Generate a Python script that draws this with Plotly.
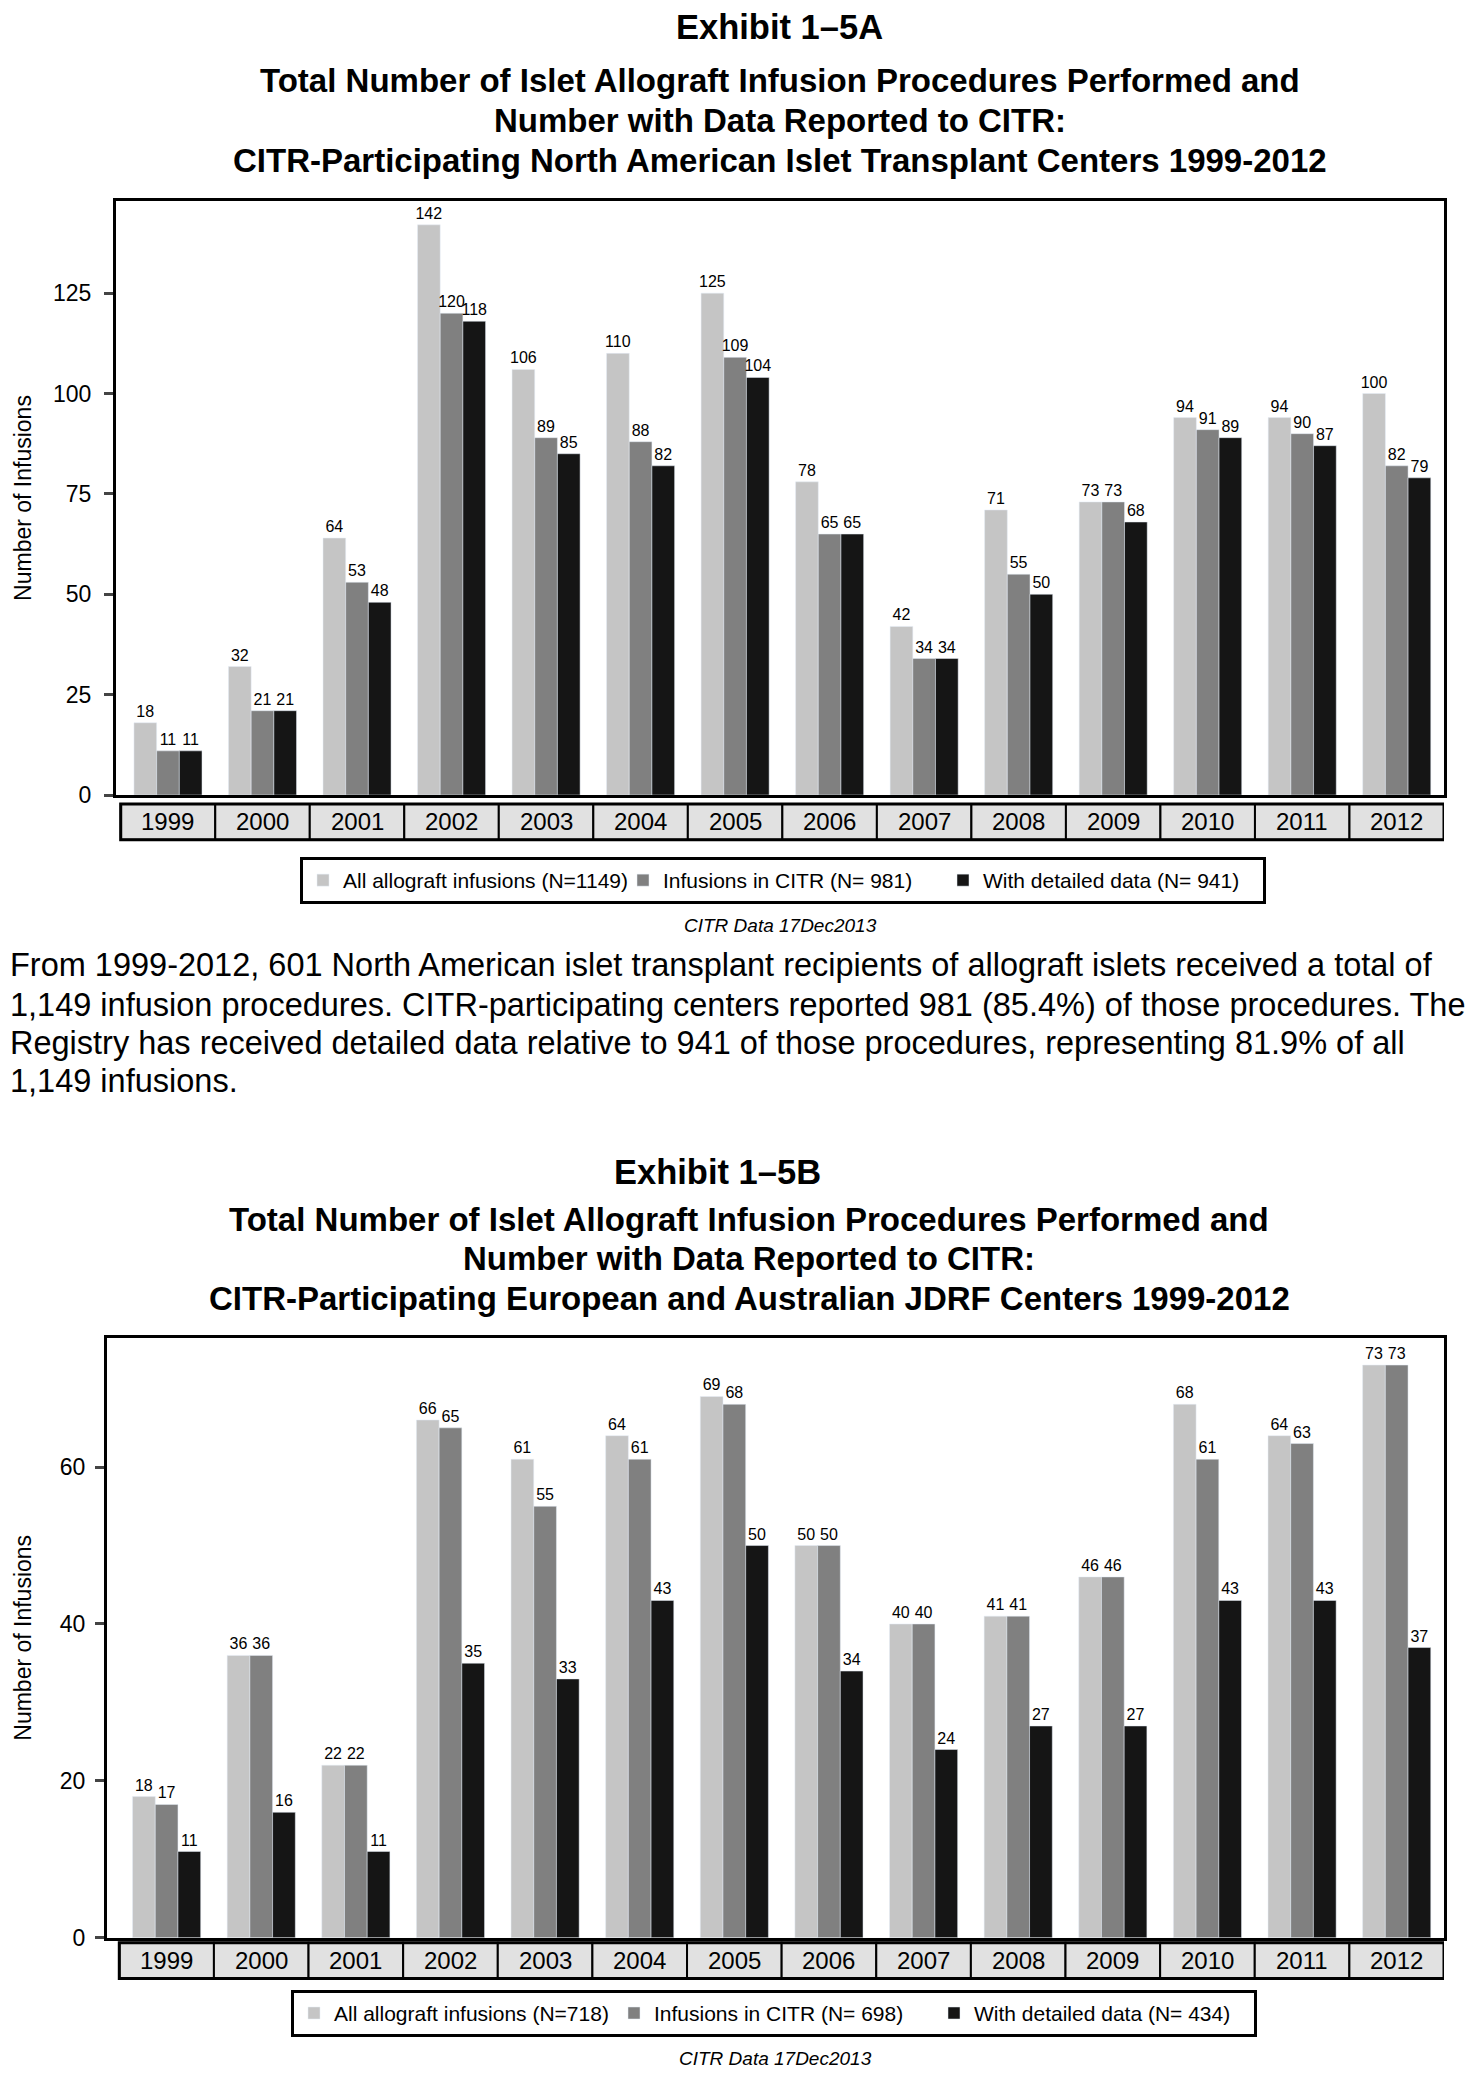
import plotly.graph_objects as go

years = ['1999', '2000', '2001', '2002', '2003', '2004', '2005',
         '2006', '2007', '2008', '2009', '2010', '2011', '2012']

# Exhibit 1-5A: North America
na_all = [18, 32, 64, 142, 106, 110, 125, 78, 42, 71, 73, 94, 94, 100]
na_citr = [11, 21, 53, 120, 89, 88, 109, 65, 34, 55, 73, 91, 90, 82]
na_detail = [11, 21, 48, 118, 85, 82, 104, 65, 34, 50, 68, 89, 87, 79]
na_names = ['All allograft infusions (N=1149)', 'Infusions in CITR (N= 981)',
            'With detailed data (N= 941)']

# Exhibit 1-5B: Europe / Australia
eu_all = [18, 36, 22, 66, 61, 64, 69, 50, 40, 41, 46, 68, 64, 73]
eu_citr = [17, 36, 22, 65, 55, 61, 68, 50, 40, 41, 46, 61, 63, 73]
eu_detail = [11, 16, 11, 35, 33, 43, 50, 34, 24, 27, 27, 43, 43, 37]
eu_names = ['All allograft infusions (N=718)', 'Infusions in CITR (N= 698)',
            'With detailed data (N= 434)']

colors = ['#c5c5c5', '#808080', '#151515']

paragraph = [
    'From 1999-2012, 601 North American islet transplant recipients of allograft islets received a total of',
    '1,149 infusion procedures. CITR-participating centers reported 981 (85.4%) of those procedures. The',
    'Registry has received detailed data relative to 941 of those procedures, representing 81.9% of all',
    '1,149 infusions.',
]

W, H = 1475, 2075
FONT = 'Liberation Sans, Arial, sans-serif'


def px(x):
    return x / W


def py(y):
    return 1 - y / H


fig = go.Figure()

for k, vals in enumerate([na_all, na_citr, na_detail]):
    fig.add_trace(go.Bar(x=years, y=vals, name=na_names[k], marker_color=colors[k],
                         text=vals, textposition='outside', constraintext='none',
                         cliponaxis=False, textfont=dict(size=16, color='black'),
                         xaxis='x', yaxis='y', legend='legend'))
for k, vals in enumerate([eu_all, eu_citr, eu_detail]):
    fig.add_trace(go.Bar(x=years, y=vals, name=eu_names[k], marker_color=colors[k],
                         text=vals, textposition='outside', constraintext='none',
                         cliponaxis=False, textfont=dict(size=16, color='black'),
                         xaxis='x2', yaxis='y2', legend='legend2'))

box = dict(showline=True, mirror=True, linecolor='black', linewidth=3)
leg = dict(orientation='h', xanchor='center', yanchor='middle', bordercolor='black',
           borderwidth=3, font=dict(size=21), bgcolor='white',
           entrywidth=275, entrywidthmode='pixels')
fig.update_layout(
    width=W, height=H, autosize=False,
    margin=dict(l=0, r=0, t=0, b=0),
    paper_bgcolor='white', plot_bgcolor='white',
    font=dict(family=FONT, color='black'),
    barmode='group', bargap=0.28, bargroupgap=0,
    xaxis=dict(domain=[px(108), px(1436)], range=[-0.55, 13.5], anchor='y',
               showticklabels=False, ticks='', showgrid=False, **box),
    yaxis=dict(domain=[py(792), py(194)], range=[0, 148], anchor='x',
               tickvals=[0, 25, 50, 75, 100, 125], ticks='outside', ticklen=9,
               tickwidth=3, tickfont=dict(size=23), ticklabelstandoff=8,
               showgrid=False, zeroline=False, **box),
    xaxis2=dict(domain=[px(99), px(1436)], range=[-0.63, 13.5], anchor='y2',
                showticklabels=False, ticks='', showgrid=False, **box),
    yaxis2=dict(domain=[py(1942), py(1338)], range=[0, 76.5], anchor='x2',
                tickvals=[0, 20, 40, 60], ticks='outside', ticklen=9,
                tickwidth=3, tickfont=dict(size=23), ticklabelstandoff=5,
                showgrid=False, zeroline=False, **box),
    legend=dict(x=px(775), y=py(878), **leg),
    legend2=dict(x=px(766), y=py(2018), **leg),
    showlegend=True,
)

# year table under each chart
shapes = []
annotations = []
for xref, top, bot in [('x', 801, 837), ('x2', 1947, 1983)]:
    for i, yr in enumerate(years):
        shapes.append(dict(type='rect', xref=xref, yref='paper', x0=i - 0.5, x1=i + 0.5,
                           y0=py(bot), y1=py(top), fillcolor='#e1e1e1',
                           line=dict(color='black', width=2), layer='below'))
        annotations.append(dict(text=yr, xref=xref, yref='paper', x=i, y=py((top + bot) / 2),
                                showarrow=False, font=dict(size=24), yanchor='middle'))
    shapes.append(dict(type='rect', xref=xref, yref='paper', x0=-0.5, x1=13.5,
                       y0=py(bot), y1=py(top), line=dict(color='black', width=3)))

titles = [
    ('Exhibit 1\u20135A', 771, 19, 34.5),
    ('Total Number of Islet Allograft Infusion Procedures Performed and', 772, 73, 33),
    ('Number with Data Reported to CITR:', 772, 113, 33),
    ('CITR-Participating North American Islet Transplant Centers 1999-2012', 772, 153, 33),
    ('Exhibit 1\u20135B', 709, 1171, 34.5),
    ('Total Number of Islet Allograft Infusion Procedures Performed and', 741, 1219, 33),
    ('Number with Data Reported to CITR:', 741, 1258, 33),
    ('CITR-Participating European and Australian JDRF Centers 1999-2012', 741, 1299, 33),
]
for txt, x, y, size in titles:
    annotations.append(dict(text='<b>' + txt + '</b>', xref='paper', yref='paper',
                            x=px(x), y=py(y), showarrow=False, font=dict(size=size),
                            xanchor='center', yanchor='middle'))

for txt, x, y in [('CITR Data 17Dec2013', 772, 923), ('CITR Data 17Dec2013', 767, 2063)]:
    annotations.append(dict(text='<i>' + txt + '</i>', xref='paper', yref='paper',
                            x=px(x), y=py(y), showarrow=False, font=dict(size=19),
                            xanchor='center', yanchor='middle'))

for y in [493, 1640]:
    annotations.append(dict(text='Number of Infusions', xref='paper', yref='paper',
                            x=px(15), y=py(y), showarrow=False, textangle=-90,
                            font=dict(size=23), xanchor='center', yanchor='middle'))

for line, y in zip(paragraph, [963, 1003, 1042, 1080]):
    annotations.append(dict(text=line, xref='paper', yref='paper', x=0, y=py(y),
                            showarrow=False, font=dict(size=32.5), xanchor='left',
                            yanchor='middle'))

fig.update_layout(shapes=shapes, annotations=annotations)
fig.write_html('out.html')
